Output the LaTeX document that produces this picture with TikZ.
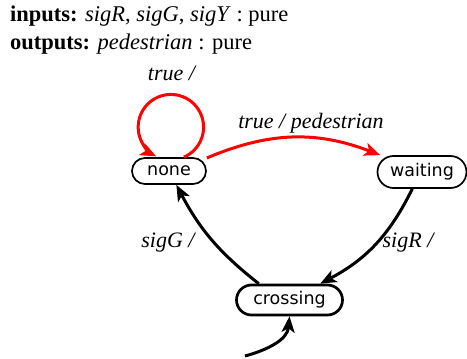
\documentclass[tikz,border=0pt]{standalone}
\usepackage{fontspec}
\setmainfont{Liberation Serif}
\newfontfamily\statefont{DejaVu Sans}
\usetikzlibrary{arrows.meta,calc}
\tikzset{
  state/.style={draw, line width=1.7pt, rounded corners=13pt, inner sep=0pt,
    font=\statefont\fontsize{17.5}{20}\selectfont},
  lab/.style={font=\fontsize{22}{26}\selectfont\itshape, inner sep=0pt},
  hdr/.style={font=\fontsize{22.5}{27}\selectfont, inner sep=0pt, anchor=base west},
  tr/.style={line width=3pt, -{Stealth[length=16pt,width=13pt,inset=4pt]}},
  redtr/.style={tr, red},
}
\begin{document}
\begin{tikzpicture}[x=1pt,y=1pt]
\useasboundingbox (0,0) rectangle (467,-359);
\node[hdr] (h1) at (10,-21) {\textbf{inputs:} \textit{sigR}, \textit{sigG}, \textit{sigY} : pure};
\node[hdr] (h2) at (10,-49) {\textbf{outputs:} \textit{pedestrian} : pure};

\node[state, minimum width=74pt, minimum height=26pt] (none) at (169,-171) {none};
\node[state, minimum width=89pt, minimum height=32pt, rounded corners=16pt] (waiting) at (422,-172) {waiting};
\node[state, line width=2.7pt, minimum width=106pt, minimum height=30pt, rounded corners=15pt] (crossing) at (289.5,-300) {crossing};

\draw[redtr] (none.43) arc[start angle=-66.6, end angle=243.4, radius=32.7];
\node[lab] (l1) at (171.5,-73) {true /};

\draw[redtr] (none.19) to[bend left=22] (waiting.158);
\node[lab] (l2) at (311,-123) {true / pedestrian};

\draw[tr] (waiting.240) to[bend left=18] (crossing.28);
\node[lab] (l3) at (408,-243) {sigR /};

\draw[tr] (crossing.152) to[bend left=12] (none.298);
\node[lab] (l4) at (168,-243) {sigG /};

\coordinate (init) at (245,-356);
\draw[tr] (init) to[out=15,in=-95] (crossing.south);
\end{tikzpicture}
\end{document}
